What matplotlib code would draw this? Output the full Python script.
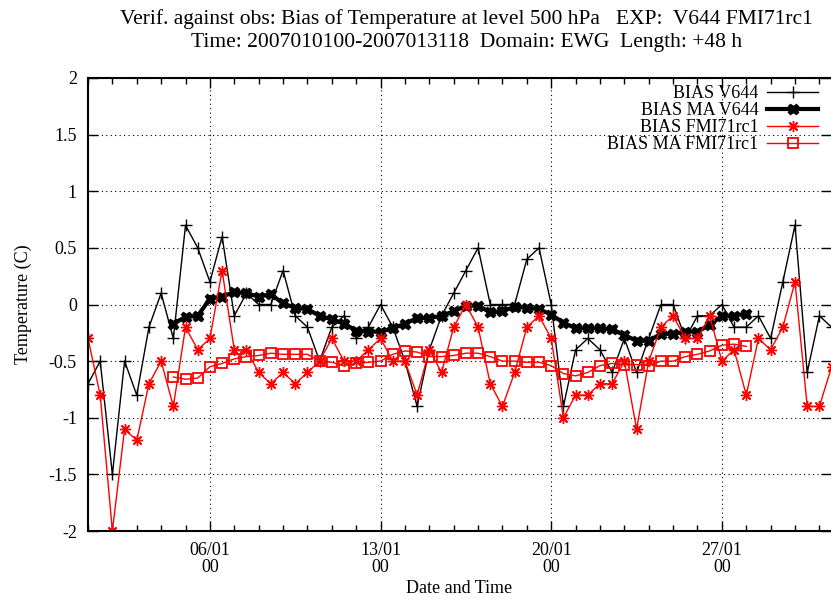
import numpy as np
import matplotlib
matplotlib.use("Agg")
import matplotlib.pyplot as plt
import matplotlib.dates as mdates

plt.rcParams['font.family'] = ['Liberation Serif', 'DejaVu Serif']
plt.rcParams['font.size'] = 13

# valid times, every 12 h from 2007-01-01 00
start = np.datetime64('2007-01-01T00:00')
times = start + np.arange(62) * np.timedelta64(12, 'h')

bias_v644 = [-0.7, -0.5, -1.5, -0.5, -0.8, -0.2, 0.1, -0.3, 0.7, 0.5,
             0.2, 0.6, -0.1, 0.1, 0.0, 0.0, 0.3, -0.1, -0.2, -0.5,
             -0.2, -0.1, -0.3, -0.2, 0.0, -0.2, -0.5, -0.9, -0.4, -0.1,
             0.1, 0.3, 0.5, 0.0, 0.0, 0.0, 0.4, 0.5, 0.0, -0.9,
             -0.4, -0.3, -0.4, -0.6, -0.3, -0.6, -0.3, 0.0, 0.0, -0.3,
             -0.1, -0.1, 0.0, -0.2, -0.2, -0.1, -0.3, 0.2, 0.7, -0.6,
             -0.1, -0.2]

bias_fmi = [-0.3, -0.8, -2.0, -1.1, -1.2, -0.7, -0.5, -0.9, -0.2, -0.4,
            -0.3, 0.3, -0.4, -0.4, -0.6, -0.7, -0.6, -0.7, -0.6, -0.5,
            -0.3, -0.5, -0.5, -0.4, -0.3, -0.5, -0.5, -0.8, -0.4, -0.6,
            -0.2, 0.0, -0.2, -0.7, -0.9, -0.6, -0.2, -0.1, -0.3, -1.0,
            -0.8, -0.8, -0.7, -0.7, -0.5, -1.1, -0.5, -0.2, -0.1, -0.3,
            -0.3, -0.1, -0.5, -0.4, -0.8, -0.3, -0.4, -0.2, 0.2, -0.9,
            -0.9, -0.55]

# moving averages, available from index 7 to 54
ma_start = 7
ma_v644 = [-0.17, -0.11, -0.10, 0.05, 0.07, 0.11, 0.10, 0.07, 0.09, 0.01,
           -0.03, -0.04, -0.10, -0.13, -0.17, -0.23, -0.24, -0.24, -0.21, -0.17,
           -0.12, -0.12, -0.10, -0.06, -0.01, -0.01, -0.07, -0.06, -0.02, -0.03,
           -0.04, -0.09, -0.16, -0.21, -0.21, -0.21, -0.22, -0.27, -0.32, -0.32,
           -0.26, -0.26, -0.24, -0.24, -0.18, -0.10, -0.10, -0.08]
ma_fmi = [-0.64, -0.66, -0.65, -0.55, -0.52, -0.48, -0.46, -0.45, -0.43, -0.44,
          -0.44, -0.44, -0.50, -0.51, -0.54, -0.52, -0.51, -0.50, -0.44, -0.41,
          -0.42, -0.46, -0.46, -0.45, -0.43, -0.43, -0.46, -0.50, -0.50, -0.51,
          -0.51, -0.54, -0.61, -0.63, -0.60, -0.54, -0.52, -0.53, -0.53, -0.54,
          -0.50, -0.50, -0.46, -0.44, -0.41, -0.36, -0.35, -0.37]
ma_times = times[ma_start:ma_start + len(ma_v644)]

fig = plt.figure(figsize=(8.31, 6.03), dpi=100)
ax = fig.add_axes([88 / 831, 1 - 531 / 603, 743 / 831, 453 / 603])

asterisk = (8, 2, 0)
ax.plot(times, bias_v644, color='black', lw=1, marker='+', ms=8, mew=1,
        label='BIAS V644')
ax.plot(ma_times, ma_v644, color='black', lw=3, marker='X', ms=7.5,
        label='BIAS MA V644')
ax.plot(times, bias_fmi, color='red', lw=1, marker=asterisk, ms=8, mew=1,
        label='BIAS FMI71rc1')
ax.plot(ma_times, ma_fmi, color='red', lw=1, marker='s', ms=7, mew=1.3,
        mfc='none', label='BIAS MA FMI71rc1')

x0 = mdates.date2num(start.astype('datetime64[s]').item())
ax.set_xlim(x0, x0 + 743 / 24.38)
ax.set_ylim(-2, 2)
ax.set_yticks(np.arange(-2, 2.01, 0.5))
ax.set_yticklabels(['-2', '-1.5', '-1', '-0.5', '0', '0.5', '1', '1.5', '2'])

ax.xaxis.set_major_locator(mdates.DayLocator(bymonthday=[6, 13, 20, 27]))
ax.xaxis.set_major_formatter(mdates.DateFormatter('%d/%m\n%H'))
ax.xaxis.set_minor_locator(mdates.DayLocator())
for lbl in ax.get_xticklabels():
    lbl.set_linespacing(1.0)

ax.tick_params(which='both', direction='in', top=True, right=True)
ax.tick_params(which='major', length=7, width=1)
ax.tick_params(which='minor', length=4, width=1)
ax.tick_params(axis='x', which='major', pad=8)
ax.tick_params(axis='y', which='major', pad=8)
ax.grid(True, which='major', color='black', linestyle=(0, (1, 3)), lw=0.8)

for s in ['left', 'bottom', 'top']:
    ax.spines[s].set_linewidth(1.5)
ax.spines['right'].set_visible(False)

ax.set_ylabel('Temperature (C)', labelpad=12)
ax.set_xlabel('Date and Time', labelpad=3)

fig.text(466 / 831, 1 - 19 / 603,
         'Verif. against obs: Bias of Temperature at level 500 hPa   EXP:  V644 FMI71rc1',
         ha='center', va='center', fontsize=15.5)
fig.text(467 / 831, 1 - 43 / 603,
         'Time: 2007010100-2007013118  Domain: EWG  Length: +48 h',
         ha='center', va='center', fontsize=15.5)

ax.legend(loc='upper right', bbox_to_anchor=(818 / 831, 1 - 85 / 603),
          bbox_transform=fig.transFigure, frameon=False, markerfirst=False,
          handlelength=2.8, handletextpad=0.5, labelspacing=0.0,
          borderpad=0, borderaxespad=0, fontsize=13)

fig.savefig('out.png', dpi=100)
